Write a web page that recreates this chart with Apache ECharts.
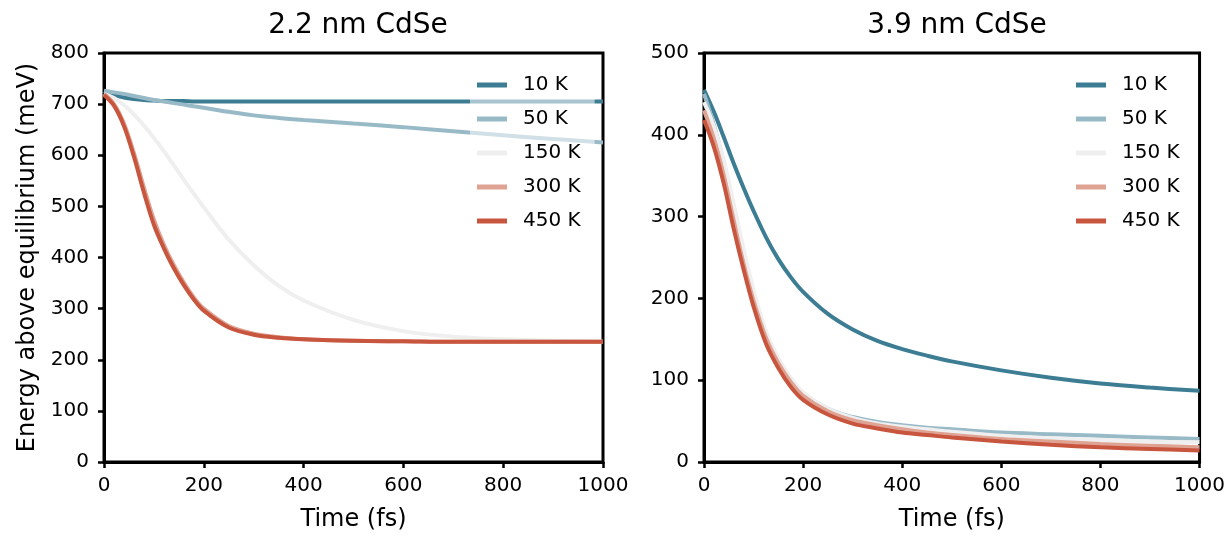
<!DOCTYPE html>
<html>
<head>
<meta charset="utf-8">
<script src="https://cdn.jsdelivr.net/npm/echarts@6/dist/echarts.min.js"></script>
<style>
  html, body { margin: 0; padding: 0; background: #fff; }
  #chart { width: 1228px; height: 539px; }
</style>
</head>
<body>
<div id="chart"></div>
<script>
// temperatures (legend) and colours
var names = ['10 K', '50 K', '150 K', '300 K', '450 K']
var colors = ['#3d7d94', '#98bac7', '#efefef', '#dfa393', '#c8553d']

// 2.2 nm CdSe, time in fs
var tLeft = [0, 20, 40, 60, 80, 100, 120, 140, 160, 180, 200, 250, 300, 350, 400, 500, 600, 700, 800, 900, 1000]
var left10 = [725, 718, 713, 710, 708, 707, 706, 706, 706, 705, 705, 705, 705, 705, 705, 705, 705, 705, 705, 705, 705]
var left50 = [726, 723, 720, 716, 712, 708, 705, 702, 699, 696, 693, 685, 678, 673, 669, 662, 655, 647, 639, 632, 625]
var left150 = [720, 712, 698, 680, 658, 634, 608, 580, 552, 525, 498, 435, 385, 345, 316, 278, 256, 245, 240, 237, 235]
var left300 = [720, 700, 662, 604, 537, 474, 425, 385, 351, 322, 300, 266, 251, 244, 240, 237, 236, 235, 235, 235, 235]
var left450 = [718, 697, 657, 597, 527, 464, 418, 379, 346, 318, 296, 263, 249, 243, 240, 237, 236, 235, 235, 235, 235]

// 3.9 nm CdSe
var tRight = [0, 20, 40, 60, 80, 100, 125, 150, 175, 200, 250, 300, 350, 400, 450, 500, 600, 700, 800, 900, 1000]
var right10 = [455, 428, 397, 365, 335, 307, 275, 248, 226, 208, 181, 162, 148, 138, 130, 123, 112, 103, 96, 91, 87]
var right50 = [450, 412, 365, 310, 255, 205, 157, 124, 101, 84, 65, 55, 49, 45, 42, 40, 36, 34, 32, 30, 28]
var right150 = [440, 410, 368, 315, 260, 210, 160, 127, 103, 85, 65, 54, 47, 43, 40, 37, 32, 29, 27, 25, 24]
var right300 = [430, 395, 350, 295, 242, 197, 152, 121, 98, 81, 62, 51, 45, 40, 36, 33, 28, 25, 22, 20, 18]
var right450 = [418, 385, 340, 285, 235, 190, 145, 115, 92, 76, 58, 47, 41, 36, 33, 30, 25, 21, 18, 16, 14]

var leftSets = [left10, left50, left150, left300, left450]
var rightSets = [right10, right50, right150, right300, right450]

var font = '"DejaVu Sans", sans-serif'

function pairs (t, v) {
  return t.map(function (x, i) { return [x, v[i]] })
}

function makeSeries (t, sets, idx) {
  return sets.map(function (v, i) {
    return {
      name: names[i],
      type: 'line',
      xAxisIndex: idx,
      yAxisIndex: idx,
      data: pairs(t, v),
      smooth: 0.35,
      showSymbol: false,
      lineStyle: { color: colors[i], width: 4 },
      itemStyle: { color: colors[i] },
      z: 2 + i
    }
  })
}

function xAxis (idx) {
  return {
    type: 'value',
    gridIndex: idx,
    min: 0,
    max: 1000,
    interval: 200,
    name: 'Time (fs)',
    nameLocation: 'middle',
    nameGap: 46,
    nameTextStyle: { fontFamily: font, fontSize: 24, color: '#000' },
    axisLine: { show: true, lineStyle: { color: '#000', width: 3 } },
    axisTick: { show: true, length: 6, lineStyle: { color: '#000', width: 2.5 } },
    axisLabel: { fontFamily: font, fontSize: 20, color: '#000', margin: 14, formatter: function (v) { return String(v) } },
    splitLine: { show: false }
  }
}

function yAxis (idx, max, name) {
  return {
    type: 'value',
    gridIndex: idx,
    min: 0,
    max: max,
    interval: 100,
    name: name,
    nameLocation: 'middle',
    nameGap: 64,
    nameTextStyle: { fontFamily: font, fontSize: 24, color: '#000' },
    axisLine: { show: true, lineStyle: { color: '#000', width: 3 } },
    axisTick: { show: true, length: 6, lineStyle: { color: '#000', width: 2.5 } },
    axisLabel: { fontFamily: font, fontSize: 20, color: '#000', margin: 15 },
    splitLine: { show: false }
  }
}

function legend (left) {
  return {
    orient: 'vertical',
    left: left,
    top: 67,
    data: names,
    itemWidth: 30,
    itemHeight: 5,
    itemGap: 14,
    padding: [8, 14, 8, 7],
    backgroundColor: 'rgba(255,255,255,0.55)',
    icon: 'rect',
    selectedMode: false,
    textStyle: { fontFamily: font, fontSize: 20, color: '#000', lineHeight: 20, padding: [0, 0, 0, 11] }
  }
}

var chart = echarts.init(document.getElementById('chart'))
chart.setOption({
  animation: false,
  title: [
    { text: '2.2 nm CdSe', left: 353, top: 7, textAlign: 'center', textStyle: { fontFamily: font, fontSize: 28, fontWeight: 'normal', color: '#000' } },
    { text: '3.9 nm CdSe', left: 952, top: 7, textAlign: 'center', textStyle: { fontFamily: font, fontSize: 28, fontWeight: 'normal', color: '#000' } }
  ],
  legend: [legend(470), legend(1069)],
  grid: [
    { left: 104, right: 625, top: 53, bottom: 77, show: true, borderColor: '#000', borderWidth: 3, backgroundColor: 'transparent' },
    { left: 704, right: 27, top: 53, bottom: 77, show: true, borderColor: '#000', borderWidth: 3, backgroundColor: 'transparent' }
  ],
  xAxis: [xAxis(0), xAxis(1)],
  yAxis: [yAxis(0, 800, 'Energy above equilibrium (meV)'), yAxis(1, 500, '')],
  series: makeSeries(tLeft, leftSets, 0).concat(makeSeries(tRight, rightSets, 1))
})
</script>
</body>
</html>
